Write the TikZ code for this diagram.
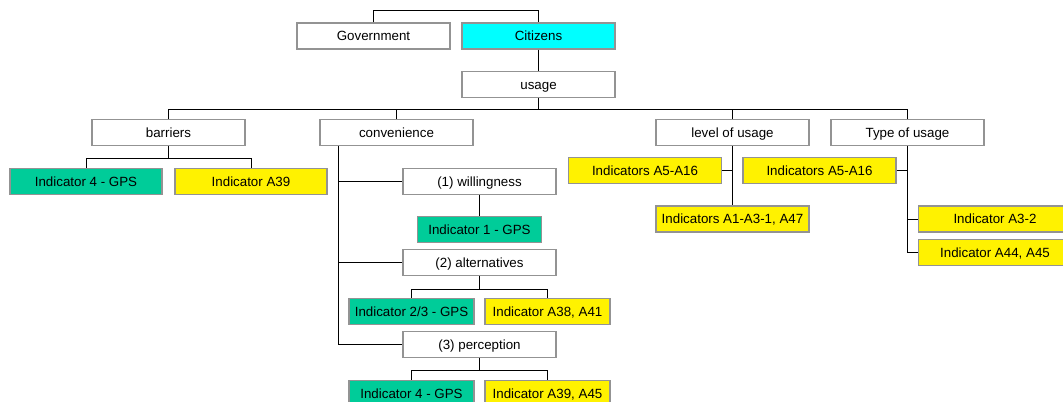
\documentclass[tikz,border=0pt]{standalone}
\usepackage{fontspec}
\setmainfont{Liberation Sans}
\definecolor{gpsgreen}{RGB}{0,204,153}
\definecolor{citcyan}{RGB}{0,255,255}
\tikzset{
  box/.style={draw=gray!85,line width=1pt,fill=white,minimum height=19.5pt,
    minimum width=114.75pt,inner sep=0pt,text height=7.2pt,text depth=0pt,
    font=\fontsize{10}{12}\selectfont},
  gpsbox/.style={box,fill=gpsgreen},
  indbox/.style={box,fill=yellow},
  citbox/.style={box,fill=citcyan},
  link/.style={draw=black,line width=0.75pt},
}
\begin{document}
\begin{tikzpicture}[x=0.75pt,y=-0.75pt]
\useasboundingbox (0,0) rectangle (1063,401);
\clip (0,0) rectangle (1063,401);
% top level
\node[box] (gov) at (373.5,36) {Government};
\node[citbox] (cit) at (538.5,36) {Citizens};
\node[box] (usage) at (538.5,84.5) {usage};
\node[box] (barriers) at (168.5,132.5) {barriers};
\node[box] (conv) at (396.5,132.5) {convenience};
\node[box] (level) at (732.5,132.5) {level of usage};
\node[box] (type) at (907.5,132.5) {Type of usage};
% barriers
\node[gpsbox,minimum width=114pt] (bgps) at (86,181.5) {Indicator 4 - GPS};
\node[indbox,minimum width=114pt] (ba39) at (251,181.5) {Indicator A39};
% convenience
\node[box] (will) at (479.5,181.5) {(1) willingness};
\node[gpsbox,minimum width=93pt] (wgps) at (479.5,229.5) {Indicator 1 - GPS};
\node[box] (alt) at (479.5,262.5) {(2) alternatives};
\node[gpsbox,minimum width=93.75pt] (agps) at (411.5,311.5) {Indicator 2/3 - GPS};
\node[indbox,minimum width=93.75pt] (aind) at (547.5,311.5) {Indicator A38, A41};
\node[box] (perc) at (479.5,344.5) {(3) perception};
\node[gpsbox,minimum width=93.75pt] (pgps) at (411.5,393.5) {Indicator 4 - GPS};
\node[indbox,minimum width=93.75pt] (pind) at (547.5,393.5) {Indicator A39, A45};
% level of usage
\node[indbox] (lind) at (645,170.5) {Indicators A5-A16};
\node[indbox] (lall) at (732.5,219) {Indicators A1-A3-1, A47};
% type of usage
\node[indbox] (tind) at (819.5,170.5) {Indicators A5-A16};
\node[indbox] (tA32) at (995,219) {Indicator A3-2};
\node[indbox] (tA44) at (995,252.5) {Indicator A44, A45};
% connectors
\begin{scope}[on background layer/.try]
\draw[link] (gov.north) -- ++(0,-12) -| (cit.north);
\draw[link] (cit) -- (usage);
\draw[link] (usage.south) -- ++(0,11) coordinate (u);
\draw[link] (barriers.north) |- (u) -| (type.north);
\draw[link] (conv.north) -- (conv.north |- u);
\draw[link] (level.north) -- (level.north |- u);
\draw[link] (barriers.south) -- ++(0,12) coordinate (b);
\draw[link] (bgps.north) |- (b) -| (ba39.north);
\draw[link] (conv.south west) ++(19,0) coordinate (c);
\draw[link] (c) |- (will.west);
\draw[link] (c) |- (alt.west);
\draw[link] (c) |- (perc.west);
\draw[link] (will) -- (wgps);
\draw[link] (alt.south) -- ++(0,13) coordinate (a);
\draw[link] (agps.north) |- (a) -| (aind.north);
\draw[link] (perc.south) -- ++(0,12) coordinate (p);
\draw[link] (pgps.north) |- (p) -| (pind.north);
\draw[link] (level) -- (lall);
\draw[link] (lind.east) -- (lind.east -| level.south);
\draw[link] (type.south) |- (tA44.west);
\draw[link] (type.south) |- (tA32.west);
\draw[link] (tind.east) -- (tind.east -| type.south);
\end{scope}
\end{tikzpicture}
\end{document}
